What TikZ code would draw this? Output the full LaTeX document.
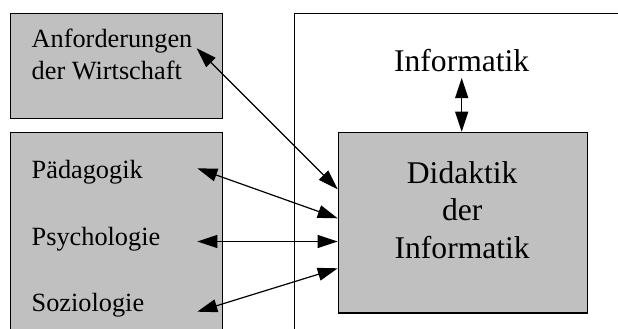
\documentclass[tikz,border=0pt]{standalone}
\usepackage{fontspec}
\setmainfont{Liberation Serif}
\usetikzlibrary{arrows.meta}
\definecolor{boxgray}{HTML}{C0C0C0}
\begin{document}
\begin{tikzpicture}[x=1pt,y=-1pt,
  box/.style={draw=black, line width=1.4pt, fill=boxgray, inner sep=0pt, anchor=north west},
  frame/.style={draw=black, line width=1.2pt, inner sep=0pt, anchor=north west},
  small/.style={font=\fontsize{26.3}{31.5}\selectfont, inner sep=0pt, anchor=base west},
  large/.style={font=\fontsize{31.6}{37.5}\selectfont, inner sep=0pt, anchor=base},
  link/.style={line width=1.2pt, {Triangle[length=20pt,width=13pt]}-{Triangle[length=20pt,width=13pt]}}]
\useasboundingbox (0,0) rectangle (618,329);
\clip (0,0) rectangle (618,329);

% boxes on the left
\node[box, minimum width=212pt, minimum height=105pt] (wirtbox) at (10,13) {};
\node[box, minimum width=212pt, minimum height=230pt] (wissbox) at (10,132) {};

% open frame around the subject area
\node[frame, minimum width=360pt, minimum height=360pt] (frame) at (294,13) {};

% central box
\node[box, minimum width=249pt, minimum height=180.6pt] (didbox) at (337.7,131.7) {};

% labels
\node[small] (anf1) at (31.5,47.5) {Anforderungen};
\node[small] (anf2) at (31.5,79) {der Wirtschaft};
\node[small] (paed) at (31.5,178.3) {Pädagogik};
\node[small] (psych) at (31.5,245) {Psychologie};
\node[small] (sozio) at (31.5,311.7) {Soziologie};

\node[large] (inf) at (461.7,71.7) {Informatik};
\node[large] (did1) at (462.2,183.3) {Didaktik};
\node[large] (did2) at (462.2,220.7) {der};
\node[large] (did3) at (462.2,258) {Informatik};

% arrow end points
\coordinate (pA) at (196.7,48.3);
\coordinate (qA) at (337.7,189.3);
\coordinate (pB) at (197.3,168.3);
\coordinate (qB) at (337.7,218.3);
\coordinate (pC) at (197.3,241.5);
\coordinate (qC) at (337.7,241.5);
\coordinate (pD) at (197.3,311.7);
\coordinate (qD) at (337.7,268.3);
\coordinate (pE) at (461.7,78);

\draw[link] (pA) -- (qA);
\draw[link] (pB) -- (qB);
\draw[link] (pC) -- (qC);
\draw[link] (pD) -- (qD);
\draw[link] (pE) -- (pE |- didbox.north);
\end{tikzpicture}
\end{document}
